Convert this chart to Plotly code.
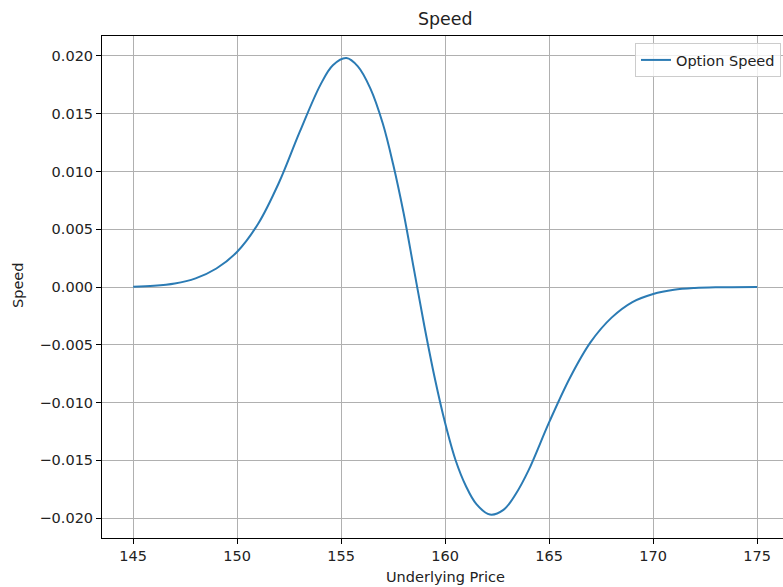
import plotly.graph_objects as go

# Data
underlying_price = [145.0, 146.0, 147.0, 148.0, 149.0, 150.0, 151.0, 152.0, 153.0, 154.0,
                    154.6, 155.25, 155.8, 156.4, 157.0, 157.5, 158.0, 158.5, 159.0, 159.5,
                    160.0, 160.5, 161.0, 161.5, 162.15, 162.8, 163.4, 164.0, 165.0, 166.0,
                    167.0, 168.0, 169.0, 170.0, 171.0, 172.0, 173.0, 175.0]
option_speed = [0.00003, 0.00010, 0.00030, 0.00075, 0.00160, 0.00305, 0.00545, 0.00900, 0.01340, 0.01750,
                0.01920, 0.01982, 0.01910, 0.01720, 0.01415, 0.01060, 0.00640, 0.00150, -0.00340, -0.00790,
                -0.01180, -0.01500, -0.01725, -0.01880, -0.01970, -0.01930, -0.01790, -0.01590, -0.01170, -0.00785,
                -0.00475, -0.00265, -0.00130, -0.00060, -0.00024, -0.00009, -0.00003, 0.0]
x_ticks = [145, 150, 155, 160, 165, 170, 175]
y_ticks = [-0.020, -0.015, -0.010, -0.005, 0.000, 0.005, 0.010, 0.015, 0.020]

FONT = "DejaVu Sans"
W, H = 783, 587
L, R, T, B = 102, 0, 36, 49

fig = go.Figure()
fig.add_trace(go.Scatter(
    x=underlying_price, y=option_speed, mode="lines", name="Option Speed",
    line=dict(color="#2b7bb4", width=2, shape="spline", smoothing=1.0),
))

plot_w = W - L - R
fig.update_layout(
    width=W, height=H,
    margin=dict(l=L, r=R, t=T, b=B, pad=0),
    paper_bgcolor="white", plot_bgcolor="white",
    font=dict(family=FONT, size=14.5, color="#222"),
    showlegend=True,
    legend=dict(
        x=(781 - L) / plot_w, y=(587 - B - 43) / (H - T - B),
        xanchor="right", yanchor="top",
        bgcolor="rgba(255,255,255,0.8)", bordercolor="#cccccc", borderwidth=1,
        font=dict(family=FONT, size=14.5, color="#222"),
        tracegroupgap=0,
    ),
    xaxis=dict(
        range=[143.5, 143.5 + plot_w / 20.8],
        tickvals=x_ticks, ticktext=[str(v) for v in x_ticks],
        ticks="outside", ticklen=5, tickwidth=1, tickcolor="black",
        showline=True, linecolor="black", linewidth=1, mirror=True,
        showgrid=True, gridcolor="#b0b0b0", gridwidth=1,
        zeroline=False,
    ),
    yaxis=dict(
        range=[-0.02173, 0.02173],
        tickvals=y_ticks, tickformat=".3f",
        ticks="outside", ticklen=5, tickwidth=1, tickcolor="black",
        showline=True, linecolor="black", linewidth=1, mirror=False,
        showgrid=True, gridcolor="#b0b0b0", gridwidth=1,
        zeroline=False,
    ),
    annotations=[
        dict(text="Speed", xref="paper", yref="paper",
             x=(445 - L) / plot_w, y=(H - B - 19) / (H - T - B),
             xanchor="center", yanchor="middle", showarrow=False,
             font=dict(family=FONT, size=17.4, color="#222")),
        dict(text="Underlying Price", xref="paper", yref="paper",
             x=(445 - L) / plot_w, y=(H - B - 577) / (H - T - B),
             xanchor="center", yanchor="middle", showarrow=False,
             font=dict(family=FONT, size=14.5, color="#222")),
        dict(text="Speed", xref="paper", yref="paper",
             x=(18 - L) / plot_w, y=(H - B - 286) / (H - T - B),
             xanchor="center", yanchor="middle", showarrow=False, textangle=-90,
             font=dict(family=FONT, size=14.5, color="#222")),
    ],
)

fig.write_html("out.html")
